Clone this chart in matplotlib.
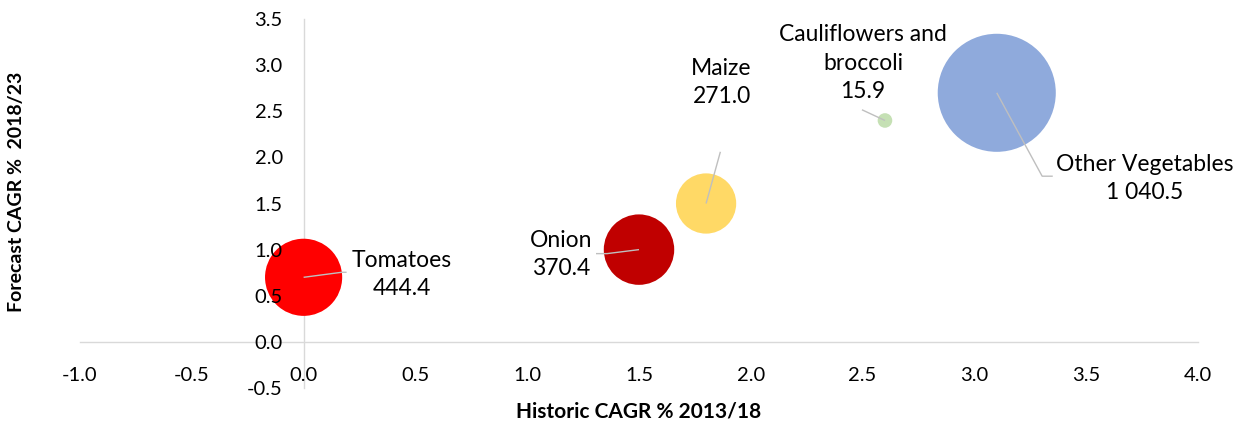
import matplotlib
matplotlib.use("Agg")
import matplotlib.pyplot as plt
import numpy as np

names = ["Tomatoes", "Onion", "Maize", "Cauliflowers and\nbroccoli", "Other Vegetables"]
hist_cagr = [0.0, 1.5, 1.8, 2.6, 3.1]
fcst_cagr = [0.7, 1.0, 1.5, 2.4, 2.7]
sizes = [444.4, 370.4, 271.0, 15.9, 1040.5]
colors = ["#FF0000", "#C00000", "#FFD966", "#C5E0B4", "#8FAADC"]

xticks = [-1.0, -0.5, 0.0, 0.5, 1.0, 1.5, 2.0, 2.5, 3.0, 3.5, 4.0]
yticks = [-0.5, 0.0, 0.5, 1.0, 1.5, 2.0, 2.5, 3.0, 3.5]

# label offsets (pixels) relative to bubble centre, and leader line paths
label_off = [(98, 3), (-78, -5), (15.5, 121), (-22, 57.4), (147.7, -85.4)]
leader_paths = [
    [(0, 0), (38, 5), (43, 5)],
    [(-43, -4), (-32, -4), (0, 0)],
    [(14.3, 51.7), (0, 0)],
    [(-23, 10.7), (0, 0)],
    [(0, 0), (45.4, -83.4), (56, -83.4)],
]

plt.rcParams['font.family'] = ['Lato', 'DejaVu Sans']
W, H, DPI = 1241, 423, 100
fig = plt.figure(figsize=(W / DPI, H / DPI), dpi=DPI)
ax = fig.add_axes([80 / W, (H - 388) / H, 1118 / W, 369 / H])
ax.set_xlim(-1.0, 4.0)
ax.set_ylim(-0.5, 3.5)

px_per_sqrt = 1.83
pt_per_px = 72 / DPI
s = [(2 * px_per_sqrt * np.sqrt(v) * pt_per_px) ** 2 for v in sizes]
ax.scatter(hist_cagr, fcst_cagr, s=s, c=colors, linewidths=0, zorder=3)

lead_col = "#BFBFBF"
for i, (x, y) in enumerate(zip(hist_cagr, fcst_cagr)):
    label = f"{names[i]}\n{sizes[i]:,.1f}".replace(",", " ")
    ax.annotate(label, xy=(x, y), xytext=label_off[i], textcoords='offset pixels',
                ha='center', va='center', multialignment='center', fontsize=16.5,
                linespacing=1.42, color='#000000', zorder=6)
    path = leader_paths[i]
    base = ax.transData.transform((x, y))
    pts = np.array([[base[0] + dx, base[1] + dy] for dx, dy in path])
    dpts = ax.transData.inverted().transform(pts)
    ax.plot(dpts[:, 0], dpts[:, 1], color=lead_col, lw=1.0, zorder=4,
            solid_capstyle='butt')

for sp in ['top', 'right']:
    ax.spines[sp].set_visible(False)
ax.spines['left'].set_position(('data', 0))
ax.spines['bottom'].set_position(('data', 0))
for sp in ['left', 'bottom']:
    ax.spines[sp].set_color('#D9D9D9')
    ax.spines[sp].set_linewidth(1.0)
    ax.spines[sp].set_zorder(1)
ax.set_xticks(xticks)
ax.set_yticks(yticks)
ax.set_xticklabels([f"{v:.1f}" for v in xticks])
ax.set_yticklabels([f"{v:.1f}" for v in yticks])
ax.tick_params(axis='x', length=0, pad=18, labelsize=14.5)
ax.tick_params(axis='y', length=0, pad=15, labelsize=14.5)
ax.xaxis.set_zorder(5)
ax.yaxis.set_zorder(5)
ax.set_facecolor('none')

fig.text(639 / W, 1 - 411 / H, "Historic CAGR % 2013/18", ha='center', va='center',
         fontsize=15, fontweight='bold')
fig.text(17 / W, 1 - 192 / H, "Forecast CAGR %  2018/23", ha='center', va='center',
         fontsize=14, fontweight='bold', rotation=90)

fig.savefig("out.png", dpi=DPI)
